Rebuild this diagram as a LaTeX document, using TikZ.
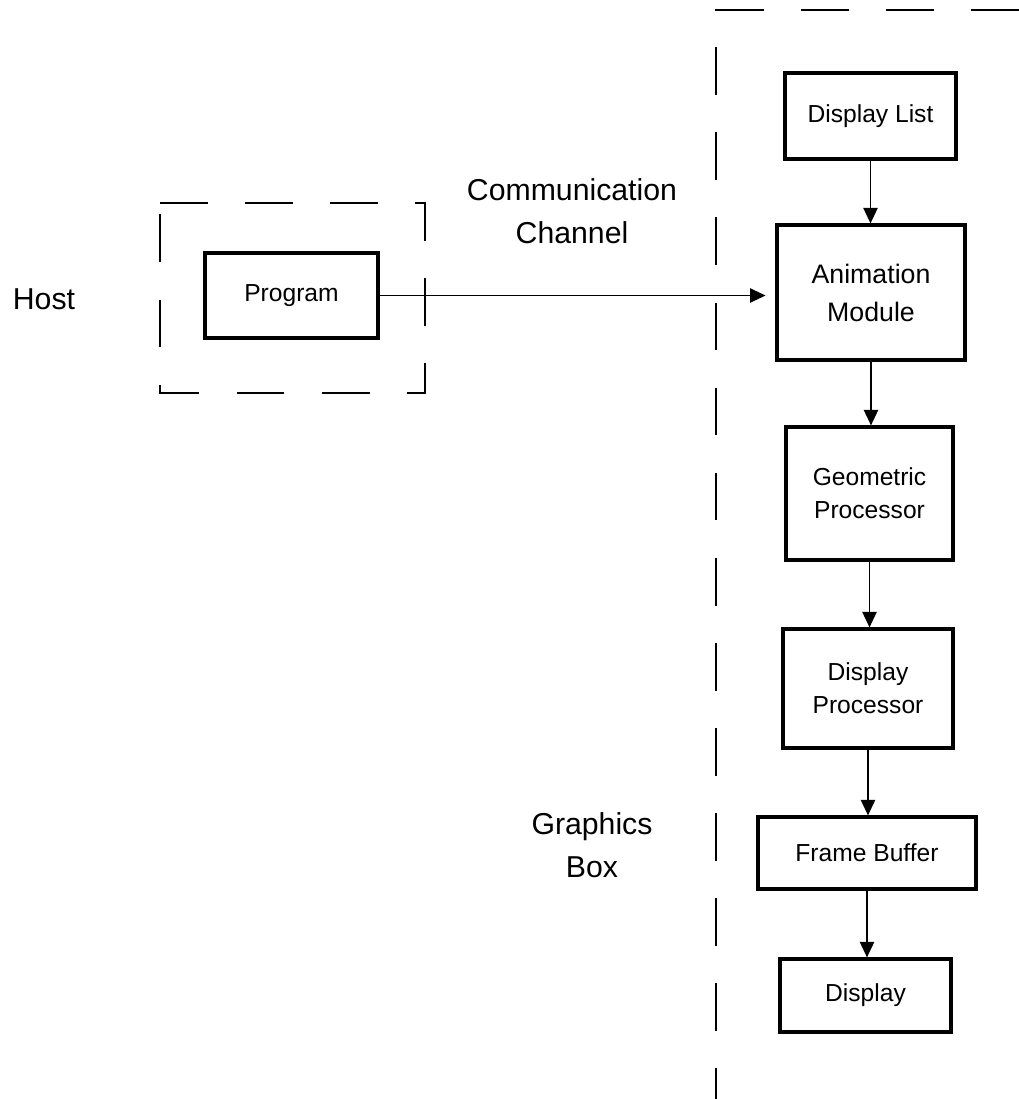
\documentclass[tikz,border=0pt]{standalone}
\usepackage{fontspec}
\setmainfont{Liberation Sans}
\usetikzlibrary{arrows.meta}

\begin{document}
\begin{tikzpicture}[
  x=0.025cm, y=-0.025cm,
  unit/.style={
    draw, line width=2.2pt, align=center, inner sep=0pt,
    font=\fontsize{17.5}{23.5}\selectfont
  },
  sidetext/.style={align=center, font=\fontsize{21.5}{31}\selectfont},
  flow/.style={line width=1.4pt, -{Triangle[length=11pt, width=10pt]}},
  border/.style={line width=1.3pt, dash pattern=on 34pt off 26.5pt}
]
  \useasboundingbox (0,0) rectangle (1019,1099);

  % Outer labels
  \node[sidetext] (host) at (44,299) {Host};
  \node[sidetext] (channel) at (572,211) {Communication\\Channel};
  \node[sidetext] (gbox) at (592,845) {Graphics\\Box};

  % --- HOST SIDE ---
  \node[unit, minimum width=4.325cm, minimum height=2.125cm] (prog) at (291.5,295.5) {Program};
  \draw[border] (160,203) -- (425,203) -- (425,393) -- (160,393) -- cycle;

  % --- GRAPHICS BOX ---
  \coordinate (gtop) at (1019,10);
  \coordinate (gcorner) at (716,10);
  \coordinate (gbottom) at (716,1099);
  \draw[border] (gtop) -- (gcorner) -- (gbottom);

  \node[unit, minimum width=4.275cm, minimum height=2.15cm] (dlist) at (870.5,116) {Display List};
  \node[unit, minimum width=4.7cm, minimum height=3.375cm,
        font=\fontsize{19}{27}\selectfont] (anim) at (871,292.5) {Animation\\Module};
  \node[unit, minimum width=4.175cm, minimum height=3.325cm] (geom) at (869.5,493.5) {Geometric\\Processor};
  \node[unit, minimum width=4.25cm, minimum height=2.975cm] (dproc) at (868,688.5) {Display\\Processor};
  \node[unit, minimum width=5.45cm, minimum height=1.8cm] (fbuf) at (867,853) {Frame Buffer};
  \node[unit, minimum width=4.275cm, minimum height=1.825cm] (disp) at (865.5,995.5) {Display};

  % --- ARROWS ---
  \draw[flow, shorten >=7pt] (prog.east) -- (prog.east -| anim.west);
  \draw[flow] (dlist.south) -- (dlist.south |- anim.north);
  \draw[flow] (anim.south) -- (anim.south |- geom.north);
  \draw[flow] (geom.south) -- (geom.south |- dproc.north);
  \draw[flow] (dproc.south) -- (dproc.south |- fbuf.north);
  \draw[flow] (fbuf.south) -- (fbuf.south |- disp.north);

\end{tikzpicture}
\end{document}
